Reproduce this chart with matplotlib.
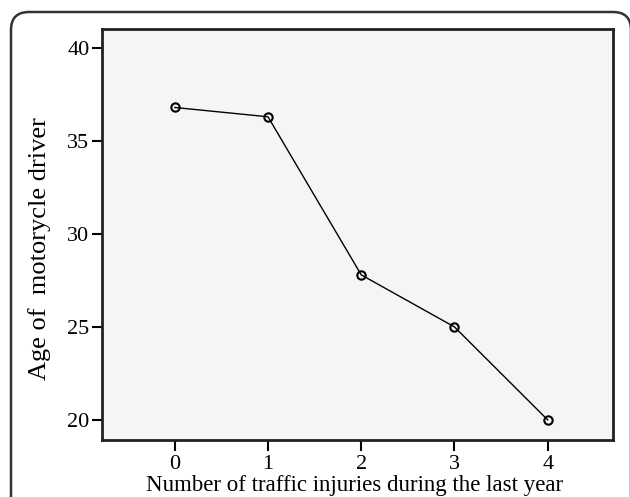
import matplotlib.pyplot as plt
from matplotlib.patches import FancyBboxPatch

# data
injuries = [0, 1, 2, 3, 4]
age = [36.8, 36.3, 27.8, 25.0, 20.0]
yticks = [20, 25, 30, 35, 40]

plt.rcParams['font.family'] = ['Liberation Serif', 'DejaVu Serif']

fig = plt.figure(figsize=(6.3, 4.97), dpi=100)
ax = fig.add_axes([102/630, 1-440/497, (613-102)/630, (440-29)/497])
ax.set_facecolor('#f5f5f5')

# rounded frame around the whole figure (pixel coords)
frame = FancyBboxPatch((11, -60), 620, 497-12+60,
                       boxstyle='round,pad=0,rounding_size=18',
                       transform=None, fill=False,
                       edgecolor='#333333', linewidth=1.8, clip_on=False)
fig.patches.append(frame)

ax.plot(injuries, age, color='black', linewidth=1.0, marker='o',
        markersize=6, markerfacecolor='none', markeredgecolor='black',
        markeredgewidth=1.5)

ax.set_xlim(-0.78, 4.70)
ax.set_ylim(18.92, 41.02)
ax.set_xticks(injuries)
ax.set_yticks(yticks)
ax.tick_params(direction='out', length=7, width=1.5, labelsize=16, pad=2)
ax.tick_params(axis='x', length=8, pad=3)
for s in ax.spines.values():
    s.set_linewidth(2)
    s.set_color('#222222')

ax.set_xlabel('Number of traffic injuries during the last year', fontsize=16.5)
ax.xaxis.set_label_coords(0.495, -0.085)
ax.set_ylabel('Age of  motorycle driver', fontsize=19)
ax.yaxis.set_label_coords(-0.1, 0.465)

fig.savefig('out.png', dpi=100)
